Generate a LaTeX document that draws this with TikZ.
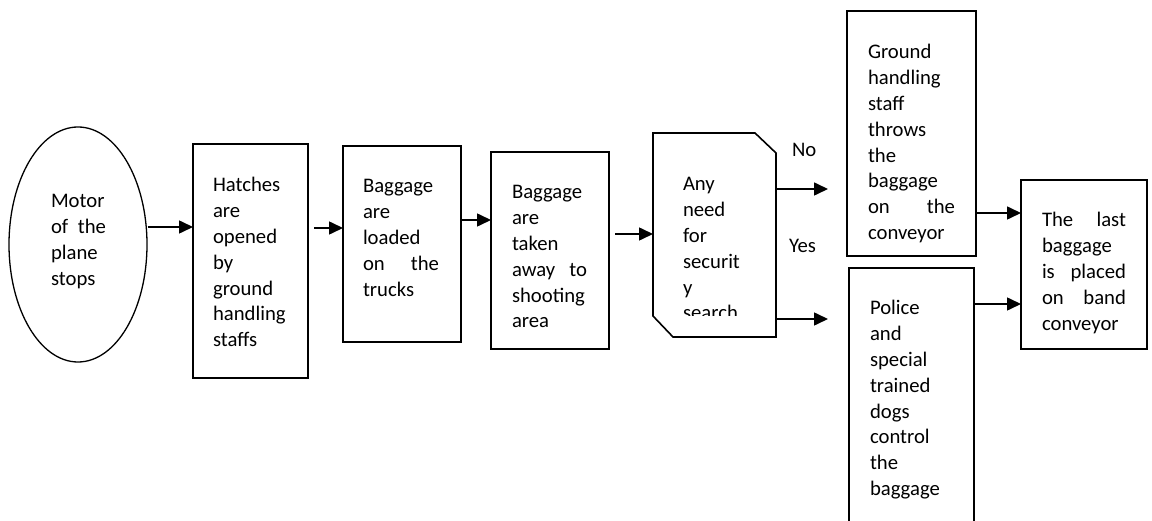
\documentclass[tikz,border=0pt]{standalone}
\usepackage{fontspec}
\setmainfont{Carlito}
\usetikzlibrary{arrows.meta,calc,shapes.geometric}
\newcommand{\jline}[3]{\hbox to #1{#2\hfill #3}}
\newcommand{\wline}[1]{\hbox{#1}}
\newcommand{\para}[1]{\vtop{\baselineskip=25.8pt\lineskiplimit=-30pt\lineskip=0pt #1}}
\tikzset{
  box/.style={draw, rectangle, anchor=north west, inner sep=0pt, outer sep=0pt, line width=1.6pt},
  txt/.style={anchor=base west, inner sep=0pt, outer sep=0pt, font=\fontsize{20.7}{25.8}\selectfont},
  arr/.style={-{Triangle[length=14pt,width=13pt]}, line width=1.6pt}
}
\begin{document}
\begin{tikzpicture}[x=1pt,y=-1pt]
\clip (0,0) rectangle (1152,521);
% shapes
\node[draw, ellipse, minimum width=138pt, minimum height=235pt, inner sep=0pt, line width=1.3pt] (ell) at (78,244.5) {};
\node[box, minimum width=115pt, minimum height=234pt] (b2) at (193,144) {};
\node[box, minimum width=118pt, minimum height=196pt] (b3) at (343,146) {};
\node[box, minimum width=118pt, minimum height=197pt] (b4) at (491,152) {};
\node[anchor=north west, inner sep=0pt, outer sep=0pt, minimum width=123pt, minimum height=204pt] (b5) at (653,133) {};
\draw[line width=1.6pt] (b5.north west) -- ($(b5.north east)+(-21,0)$) -- ($(b5.north east)+(0,20)$) -- (b5.south east) -- ($(b5.south west)+(20,0)$) -- ($(b5.south west)+(0,-21)$) -- cycle;
\node[box, minimum width=129pt, minimum height=245pt] (b6) at (847,11) {};
\node[box, minimum width=125pt, minimum height=260pt] (b7) at (849,268) {};
\node[box, minimum width=126pt, minimum height=169pt] (b8) at (1021,180) {};
% texts
\node[txt] (t1) at (51,208) {\para{\wline{Motor}\jline{55pt}{of}{the}\wline{plane}\wline{stops}}};
\node[txt] (t2) at (213,192) {\para{\wline{Hatches}\wline{are}\wline{opened}\wline{by}\wline{ground}\wline{handling}\wline{staffs}}};
\node[txt] (t3) at (363,193) {\para{\wline{Baggage}\wline{are}\wline{loaded}\jline{76pt}{on}{the}\wline{trucks}}};
\node[txt] (t4) at (512,199) {\para{\wline{Baggage}\wline{are}\wline{taken}\jline{75pt}{away}{to}\wline{shooting}\wline{area}}};
\begin{scope}
\clip (660,100) rectangle (790,316);
\node[txt] (t5) at (683,191) {\para{\wline{Any}\wline{need}\wline{for}\wline{securit}\wline{y}\wline{search}}};
\end{scope}
\node[txt] (t6) at (868,59) {\para{\wline{Ground}\wline{handling}\wline{staff}\wline{throws}\wline{the}\wline{baggage}\jline{87pt}{on}{the}\wline{conveyor}}};
\node[txt] (t7) at (870,315) {\para{\wline{Police}\wline{and}\wline{special}\wline{trained}\wline{dogs}\wline{control}\wline{the}\wline{baggage}}};
\node[txt] (t8) at (1042,227) {\para{\jline{84pt}{The}{last}\wline{baggage}\jline{84pt}{is}{placed}\jline{84pt}{on}{band}\wline{conveyor}}};
\node[txt] (no) at (792,157) {No};
\node[txt] (yes) at (789,253) {Yes};
% connectors
\draw[arr] (ell.east |- 0,227) -- (b2.west |- 0,227);
\draw[arr] ($(b2.east |- 0,228)+(6,0)$) -- (b3.west |- 0,228);
\draw[arr] (b3.east |- 0,220) -- (b4.west |- 0,220);
\draw[arr] ($(b4.east |- 0,234)+(6,0)$) -- (b5.west |- 0,234);
\draw[arr] (b5.east |- 0,189) -- ($(b6.west |- 0,189)+(-19,0)$);
\draw[arr] (b5.east |- 0,319) -- ($(b7.west |- 0,319)+(-21,0)$);
\draw[arr] (b6.east |- 0,213) -- (b8.west |- 0,213);
\draw[arr] (b7.east |- 0,304) -- (b8.west |- 0,304);
\end{tikzpicture}
\end{document}
